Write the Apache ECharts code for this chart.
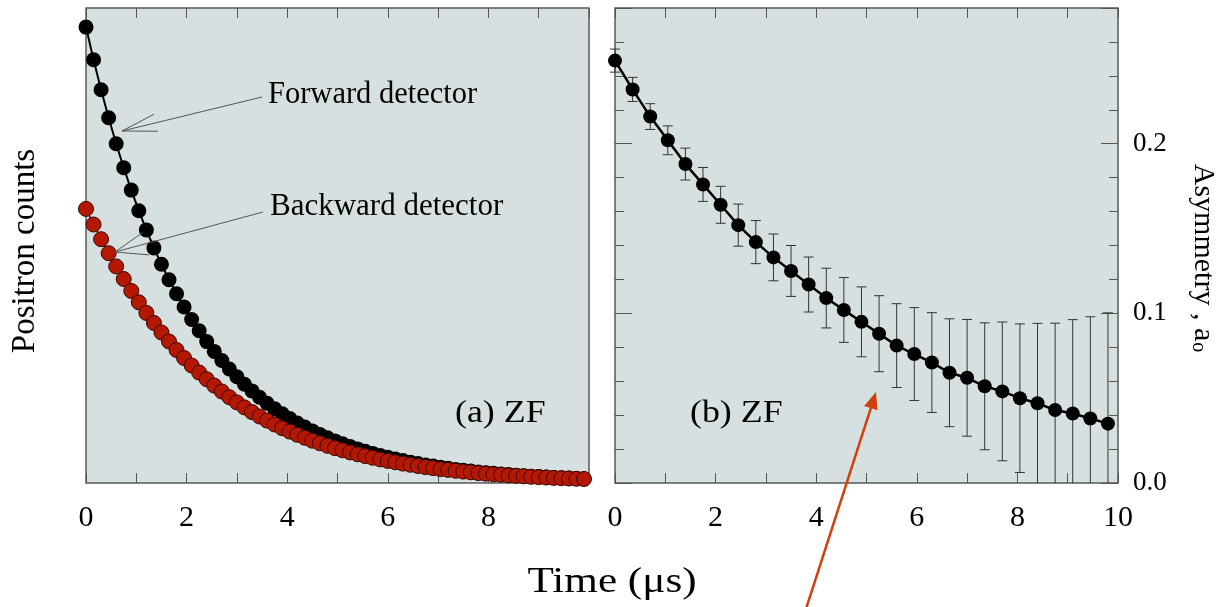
<!DOCTYPE html>
<html><head><meta charset="utf-8">
<script src="https://cdn.jsdelivr.net/npm/echarts@6/dist/echarts.min.js"></script>
<style>html,body{margin:0;padding:0;background:#fff}#c{width:1218px;height:607px}</style>
</head><body><div id="c"></div>
<script>
// ---- data ----
const timeCounts = [0,0.15,0.3,0.45,0.6,0.75,0.9,1.05,1.2,1.35,1.5,1.65,1.8,1.95,2.1,2.25,2.4,2.55,2.7,2.85,3,3.15,3.3,3.45,3.6,3.75,3.9,4.05,4.2,4.35,4.5,4.65,4.8,4.95,5.1,5.25,5.4,5.55,5.7,5.85,6,6.15,6.3,6.45,6.6,6.75,6.9,7.05,7.2,7.35,7.5,7.65,7.8,7.95,8.1,8.25,8.4,8.55,8.7,8.85,9,9.15,9.3,9.45,9.6,9.75,9.9];
const forwardCounts = [9118,8466,7864,7304,6784,6304,5858,5446,5062,4702,4374,4066,3784,3520,3270,3044,2828,2632,2450,2280,2124,1976,1842,1714,1596,1486,1384,1288,1200,1120,1042,970,904,842,786,732,682,634,592,552,514,478,448,416,388,362,338,314,294,272,256,238,222,206,194,180,168,156,146,136,128,118,110,104,98,92,84];
const backwardCounts = [5482,5170,4876,4596,4332,4080,3842,3614,3402,3202,3010,2830,2660,2500,2350,2208,2076,1948,1830,1716,1612,1512,1418,1330,1248,1170,1096,1028,964,904,846,794,744,698,654,612,574,538,504,472,442,414,388,364,340,318,298,278,262,244,228,214,198,186,174,164,152,144,134,124,116,110,102,96,90,84,80];
const timeAsym = [0,0.35,0.7,1.05,1.4,1.75,2.1,2.45,2.8,3.15,3.5,3.85,4.2,4.55,4.9,5.25,5.6,5.95,6.3,6.65,7,7.35,7.7,8.05,8.4,8.75,9.1,9.45,9.8];
const asymmetry = [0.249,0.232,0.216,0.202,0.188,0.176,0.164,0.152,0.142,0.133,0.125,0.117,0.109,0.102,0.095,0.088,0.081,0.076,0.071,0.065,0.062,0.057,0.054,0.050,0.047,0.043,0.041,0.038,0.035];
const asymError = [0.0068,0.0071,0.0076,0.0085,0.0094,0.0100,0.0109,0.0124,0.0127,0.0138,0.0150,0.0162,0.0176,0.0191,0.0206,0.0224,0.0247,0.0274,0.0294,0.0318,0.0344,0.0374,0.0409,0.0438,0.0471,0.0512,0.0553,0.0600,0.0653];
const xTickLabelsA = [0,2,4,6,8];
const xTickLabelsB = [0,2,4,6,8,10];
const yTickLabelsB = [0.0,0.1,0.2];
// annotation anchors in data units of panel (a): [time, counts]
const forwardArrow = {tail:[3.50,7720], tip:[0.716,7040]};
const backwardArrow = {tail:[3.52,5420], tip:[0.577,4620]};

const FONT = '"Liberation Serif","Times New Roman",serif';
const BG = '#d6e0e1', BORDER = '#5a5a5a', TICK = '#555';

function xAxisDef(grid, pos, labels){
  return {
    type:'value', gridIndex:grid, position:pos, min:0, max:10, interval:1,
    axisLine:{show:false, onZero:false}, splitLine:{show:false},
    axisTick:{show:true, inside:true, length:10, lineStyle:{color:TICK, width:1}},
    axisLabel:{show:!!labels, margin:20, fontSize:30, fontFamily:FONT, color:'#000',
      formatter:function(v){ return labels && labels.indexOf(Math.round(v*100)/100) >= 0 ? String(Math.round(v)) : ''; }}
  };
}
function yAxisB(pos, interval, len, labels){
  return {
    type:'value', gridIndex:1, position:pos, min:0, max:0.28, interval:interval,
    axisLine:{show:false, onZero:false}, splitLine:{show:false},
    axisTick:{show:true, inside:true, length:len, lineStyle:{color:TICK, width:1}},
    axisLabel:{show:!!labels, inside:false, margin:15, fontSize:27, fontFamily:FONT, color:'#000',
      formatter:function(v){
        if(!labels) return '';
        for (const l of labels) if (Math.abs(l - v) < 1e-6) return l.toFixed(1);
        return '';
      }}
  };
}

const chart = echarts.init(document.getElementById('c'), null, {renderer:'canvas'});

const fwdData = timeCounts.map((t,i)=>[t, forwardCounts[i]]);
const bwdData = timeCounts.map((t,i)=>[t, backwardCounts[i]]);
const asymData = timeAsym.map((t,i)=>[t, asymmetry[i]]);
const errData = timeAsym.map((t,i)=>[t, asymmetry[i], asymError[i]]);

chart.setOption({
  animation:false,
  grid:[
    {left:86, top:8, width:503, height:475, show:true, backgroundColor:BG, borderColor:BORDER, borderWidth:1.5, outerBoundsMode:'none', containLabel:false},
    {left:615, top:8, width:503, height:475, show:true, backgroundColor:BG, borderColor:BORDER, borderWidth:1.5, outerBoundsMode:'none', containLabel:false}
  ],
  xAxis:[
    xAxisDef(0,'bottom',xTickLabelsA),
    xAxisDef(0,'top',null),
    xAxisDef(1,'bottom',xTickLabelsB),
    xAxisDef(1,'top',null)
  ],
  yAxis:[
    {type:'value', gridIndex:0, min:0, max:9500, axisLine:{show:false, onZero:false}, axisTick:{show:false}, axisLabel:{show:false}, splitLine:{show:false}},
    yAxisB('right',0.1,17,yTickLabelsB),
    yAxisB('right',0.02,9,null),
    yAxisB('left',0.1,17,null),
    yAxisB('left',0.02,9,null)
  ],
  series:[
    {type:'line', name:'Forward detector', xAxisIndex:0, yAxisIndex:0, data:fwdData,
     symbol:'circle', symbolSize:15, itemStyle:{color:'#000'}, lineStyle:{color:'#000', width:2}, z:3},
    {type:'line', name:'Backward detector', xAxisIndex:0, yAxisIndex:0, data:bwdData,
     symbol:'circle', symbolSize:15, itemStyle:{color:'#b41800', borderColor:'#3a0800', borderWidth:1},
     lineStyle:{color:'#5a0a00', width:1.5}, z:4},
    {type:'custom', name:'error', xAxisIndex:2, yAxisIndex:1, data:errData, z:2,
     renderItem:function(params, api){
       const x = api.value(0), y = api.value(1), e = api.value(2);
       const top = api.coord([x, y+e]), bot = api.coord([x, y-e]);
       const cs = params.coordSys;
       const yMin = cs.y, yMax = cs.y + cs.height;
       const st = {stroke:'#333', lineWidth:1};
       const ch = [{type:'line', shape:{x1:top[0], y1:Math.max(top[1],yMin), x2:top[0], y2:Math.min(bot[1],yMax)}, style:st}];
       const cw = 5;
       if (top[1] >= yMin) ch.push({type:'line', shape:{x1:top[0]-cw, y1:top[1], x2:top[0]+cw, y2:top[1]}, style:st});
       if (bot[1] <= yMax) ch.push({type:'line', shape:{x1:bot[0]-cw, y1:bot[1], x2:bot[0]+cw, y2:bot[1]}, style:st});
       return {type:'group', children:ch};
     }},
    {type:'line', name:'Asymmetry', xAxisIndex:2, yAxisIndex:1, data:asymData,
     symbol:'circle', symbolSize:14, itemStyle:{color:'#000'}, lineStyle:{color:'#000', width:2.5}, z:5}
  ]
});

function openArrow(tail, tip, len, half){
  const ang = Math.atan2(tail[1]-tip[1], tail[0]-tip[0]);
  const b1 = [tip[0]+len*Math.cos(ang-half), tip[1]+len*Math.sin(ang-half)];
  const b2 = [tip[0]+len*Math.cos(ang+half), tip[1]+len*Math.sin(ang+half)];
  const st = {stroke:'#555', lineWidth:1, fill:null};
  return [
    {type:'line', shape:{x1:tail[0], y1:tail[1], x2:tip[0], y2:tip[1]}, style:st, z:10},
    {type:'polyline', shape:{points:[b1, tip, b2]}, style:st, z:10}
  ];
}
function filledArrow(tail, tip, headLen, headHalf, color, width){
  const dx = tip[0]-tail[0], dy = tip[1]-tail[1], L = Math.hypot(dx,dy);
  const ux = dx/L, uy = dy/L, nx = -uy, ny = ux;
  const bx = tip[0]-headLen*ux, by = tip[1]-headLen*uy;
  return [
    {type:'line', shape:{x1:tail[0], y1:tail[1], x2:bx+2*ux, y2:by+2*uy}, style:{stroke:color, lineWidth:width}, z:20},
    {type:'polygon', shape:{points:[tip,[bx+headHalf*nx, by+headHalf*ny],[bx-headHalf*nx, by-headHalf*ny]]}, style:{fill:color}, z:20}
  ];
}

const p = (d)=>chart.convertToPixel({xAxisIndex:0, yAxisIndex:0}, d);
const txt = (text, x, y, size, opts)=>Object.assign({type:'text', x:x, y:y, z:15,
  style:{text:text, fontSize:size, fontFamily:FONT, fill:'#000', align:'left', verticalAlign:'middle'}}, opts||{});

const graphics = []
  .concat(openArrow(p(forwardArrow.tail), p(forwardArrow.tip), 36, 14*Math.PI/180))
  .concat(openArrow(p(backwardArrow.tail), p(backwardArrow.tip), 34, 20*Math.PI/180))
  .concat(filledArrow([805,612],[876,392],17,7,'#d0400e',2.5));

graphics.push(txt('Forward detector', 268, 95, 30.5));
graphics.push(txt('Backward detector', 270, 207, 31));
graphics.push(Object.assign(txt('(a) ZF', 455, 414, 32), {scaleX:1.12}));
graphics.push(Object.assign(txt('(b) ZF', 690, 414, 32), {scaleX:1.12}));
graphics.push({type:'text', x:612, y:583, scaleX:1.2, z:15,
  style:{text:'Time (\u03bcs)', fontSize:36, fontFamily:FONT, fill:'#000', align:'center', verticalAlign:'middle'}});
graphics.push({type:'text', x:25, y:251, rotation:Math.PI/2, z:15,
  style:{text:'Positron counts', fontSize:33, fontFamily:FONT, fill:'#000', align:'center', verticalAlign:'middle'}});
graphics.push({type:'text', x:1203, y:258, rotation:-Math.PI/2, z:15,
  style:{text:'{n|Asymmetry , a}{s|o}', fontFamily:FONT, fill:'#000', align:'center', verticalAlign:'middle',
    rich:{n:{fontSize:30, fontFamily:FONT, fill:'#000', lineHeight:30, verticalAlign:'middle'},
          s:{fontSize:20, fontFamily:FONT, fill:'#000', lineHeight:20, verticalAlign:'bottom', padding:[16,0,0,1]}}}});

chart.setOption({graphic:{elements:graphics}});
</script>
</body></html>
